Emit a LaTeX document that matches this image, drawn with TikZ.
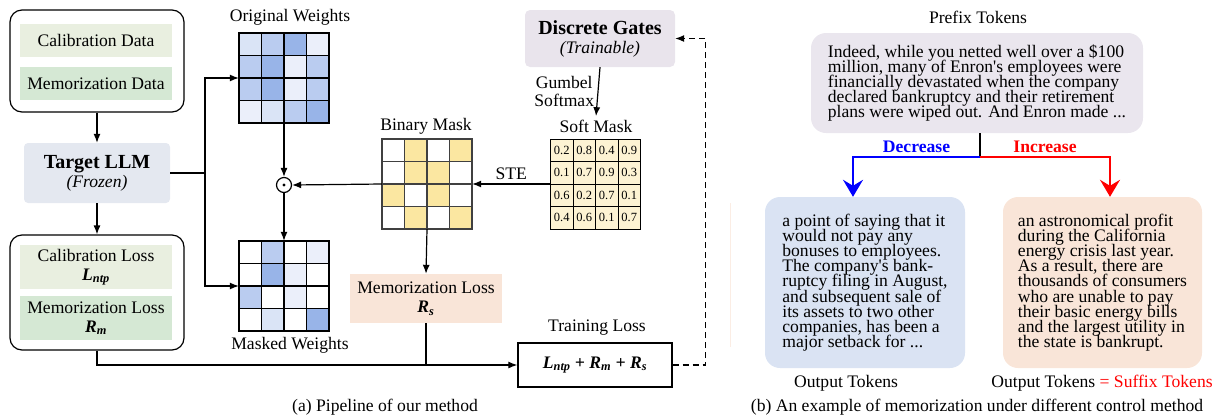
\documentclass[tikz,border=0pt]{standalone}
\usepackage{fontspec}
\setmainfont{Liberation Serif}
\usetikzlibrary{arrows.meta}
\definecolor{calib}{HTML}{E9EFE0}
\definecolor{memo}{HTML}{D5E8D4}
\definecolor{llmgray}{HTML}{E4E8F0}
\definecolor{gategray}{HTML}{E9E4EC}
\definecolor{peach}{HTML}{F9E5D8}
\definecolor{lilac}{HTML}{EAE6EE}
\definecolor{skyblue}{HTML}{DAE3F3}
\definecolor{maskyellow}{HTML}{FBE7A1}
\definecolor{cream}{HTML}{FDF3D3}
\definecolor{w1}{HTML}{EBEFFA}
\definecolor{w2}{HTML}{DAE4F6}
\definecolor{w3}{HTML}{BACCF0}
\definecolor{w4}{HTML}{98B4E8}
\newcommand\storyfont{\fontsize{17.6}{15.2}\selectfont\lineskiplimit=-20pt\relax}
\tikzset{
  >={Latex[length=9pt,width=7pt]},
}
\tikzstyle{every node}=[font=\fontsize{17.6}{19}\selectfont]
\tikzstyle{flow}=[line width=1.2pt,->]
\tikzstyle{panel}=[draw,line width=1.2pt,rounded corners=12,minimum width=174,inner sep=0pt]
\tikzstyle{box}=[minimum width=152,inner sep=0pt,align=center]
\tikzstyle{gridframe}=[minimum size=90,inner sep=0pt]
\tikzstyle{story}=[rounded corners=15,inner sep=0pt,align=left,font=\storyfont]
\tikzstyle{bigflow}=[line width=2.2pt,-{Stealth[length=17pt,width=20pt,inset=6pt]}]

\begin{document}
\begin{tikzpicture}[x=1pt,y=-1pt]
  \useasboundingbox (0,0) rectangle (1215,416);

  % (a) pipeline
  \node[panel,minimum height=102] (dataBox) at (97,61) {};
  \node[box,fill=calib,minimum height=33] (calData) at (96,40.5) {Calibration Data};
  \node[box,fill=memo,minimum height=33] (memData) at (96,83.5) {Memorization Data};
  \node[fill=llmgray,rounded corners=4,minimum width=146,minimum height=60,align=center] (llm) at (97,173)
    {\textbf{\fontsize{20}{22}\selectfont Target LLM}\\\textit{(Frozen)}};
  \node[panel,minimum height=115] (lossBox) at (97,292.5) {};
  \node[box,fill=calib,minimum height=44] (calLoss) at (96,267)
    {Calibration Loss\\\textbf{\textit{L\textsubscript{ntp}}}};
  \node[box,fill=memo,minimum height=44] (memLoss) at (96,318)
    {Memorization Loss\\\textbf{\textit{R\textsubscript{m}}}};

  \draw[flow] (dataBox.south) -- (llm.north);
  \draw[flow] (llm.south) -- (lossBox.north);

  % weights and masks
  \node[gridframe] (orig) at (284,78) {};
  \foreach \r/\cols in {0/{w2,w3,w4,w1},1/{w3,w4,w1,w3},2/{w3,w4,w1,w3},3/{w1,w2,w3,w4}}
    \foreach \c [count=\k from 0] in \cols
      \filldraw[fill=\c,line width=1.1pt] ({239+\k*22.5},{33+\r*22.5}) rectangle ++(22.5,22.5);
  \node (origLbl) at (290,17) {Original Weights};

  \node[gridframe] (masked) at (284,286) {};
  \foreach \r/\cols in {0/{white,w3,white,w1},1/{white,w4,w1,white},2/{w3,white,w1,white},3/{white,w2,white,w4}}
    \foreach \c [count=\k from 0] in \cols
      \filldraw[fill=\c,line width=1.1pt] ({239+\k*22.5},{241+\r*22.5}) rectangle ++(22.5,22.5);
  \node (maskedLbl) at (290,345) {Masked Weights};

  \node[gridframe] (bin) at (427,184) {};
  \foreach \r/\cols in {0/{white,maskyellow,white,maskyellow},1/{white,maskyellow,maskyellow,white},
                        2/{maskyellow,white,maskyellow,white},3/{white,maskyellow,white,maskyellow}}
    \foreach \c [count=\k from 0] in \cols
      \filldraw[fill=\c,draw=black!75,line width=1.1pt] ({382+\k*22.5},{139+\r*22.5}) rectangle ++(22.5,22.5);
  \node (binLbl) at (426,126) {Binary Mask};

  \node[gridframe] (soft) at (595.5,184) {};
  \foreach \r/\vals in {0/{0.2,0.8,0.4,0.9},1/{0.1,0.7,0.9,0.3},2/{0.6,0.2,0.7,0.1},3/{0.4,0.6,0.1,0.7}}
    \foreach \v [count=\k from 0] in \vals {
      \filldraw[fill=cream,line width=0.9pt] ({550.5+\k*22.5},{139+\r*22.5}) rectangle ++(22.5,22.5);
      \node[inner sep=0pt,font=\fontsize{12.5}{12.5}\selectfont] at ({561.75+\k*22.5},{150.25+\r*22.5}) {\v};
    }
  \node (softLbl) at (596,126) {Soft Mask};

  \node[fill=gategray,rounded corners=5,minimum width=150,minimum height=57,align=center] (gates) at (600,38.5)
    {\textbf{\fontsize{20}{22}\selectfont Discrete Gates}\\\textit{(Trainable)}};
  \node[draw,circle,minimum size=15,inner sep=0pt,line width=1.2pt] (dot) at (284,185) {};
  \fill (dot) circle (1.6pt);

  \node[fill=peach,minimum width=152,minimum height=49,align=center] (memS) at (426,298.5)
    {Memorization Loss\\\textbf{\textit{R\textsubscript{s}}}};
  \node[draw,line width=1.3pt,minimum width=154,minimum height=44] (train) at (595,365)
    {\textbf{\textit{L\textsubscript{ntp} + R\textsubscript{m} + R\textsubscript{s}}}};
  \node (trainLbl) at (597,328) {Training Loss};

  \coordinate (fork) at (205,173);
  \draw[line width=1.2pt] (llm.east) -- (fork);
  \draw[flow] (fork) |- (orig.west);
  \draw[flow] (fork) |- (masked.west);
  \draw[flow] (orig.south) -- (dot.north);
  \draw[flow] (dot.south) -- (masked.north);
  \draw[flow] (bin.west) -- (dot.east);
  \draw[flow] (soft.west) -- node[above] {STE} (bin.east);
  \draw[flow] (gates.south) -- node[left,align=center,font=\fontsize{17.6}{17.6}\selectfont] {Gumbel\\Softmax} (softLbl.north);
  \draw[flow] (bin.south) -- (memS.north);
  \draw[flow] (lossBox.south) |- (train.west);
  \draw[line width=1.2pt] (memS.south) -- (memS.south |- train.west);
  \draw[line width=1.2pt,dash pattern=on 6pt off 4pt,->] (train.east) -- ++(33,0) |- (gates.east);

  \node (capA) at (385,407) {(a) Pipeline of our method};

  % (b) memorization example
  \node (preLbl) at (978,17) {Prefix Tokens};
  \node[story,fill=lilac,minimum width=332,minimum height=100] (pre) at (977,83)
    {Indeed, while you netted well over a \$100\\
     million, many of Enron\textquotesingle s employees were\\
     financially devastated when the company\\
     declared bankruptcy and their retirement\\
     plans were wiped out. And Enron made ...};
  \node[story,fill=skyblue,minimum width=200,minimum height=171] (outL) at (865,282.5)
    {a point of saying that it\\
     would not pay any\\
     bonuses to employees.\\
     The company\textquotesingle s bank-\\
     ruptcy filing in August,\\
     and subsequent sale of\\
     its assets to two other\\
     companies, has been a\\
     major setback for ...};
  \node[story,fill=peach,minimum width=199,minimum height=171] (outR) at (1102.5,282.5)
    {an astronomical profit\\
     during the California\\
     energy crisis last year.\\
     As a result, there are\\
     thousands of consumers\\
     who are unable to pay\\
     their basic energy bills\\
     and the largest utility in\\
     the state is bankrupt.};
  \draw[draw=peach!70,line width=1pt] (730,203) -- (730,347);

  \coordinate (split) at (980,157);
  \draw[line width=2pt] (pre.south -| split) -- (split);
  \draw[bigflow,blue] (split) -| node[pos=0.25,above,font=\fontsize{17.6}{19}\selectfont\bfseries] {Decrease}
    ([xshift=-12]outL.north);
  \draw[bigflow,red] (split) -| node[pos=0.25,above,font=\fontsize{17.6}{19}\selectfont\bfseries] {Increase}
    ([xshift=7.5]outR.north);

  \node (outLLbl) at (846,383) {Output Tokens};
  \node (outRLbl) at (1102,383) {Output Tokens \textcolor{red}{= Suffix Tokens}};
  \node (capB) at (977,407) {(b) An example of memorization under different control method};
\end{tikzpicture}
\end{document}
